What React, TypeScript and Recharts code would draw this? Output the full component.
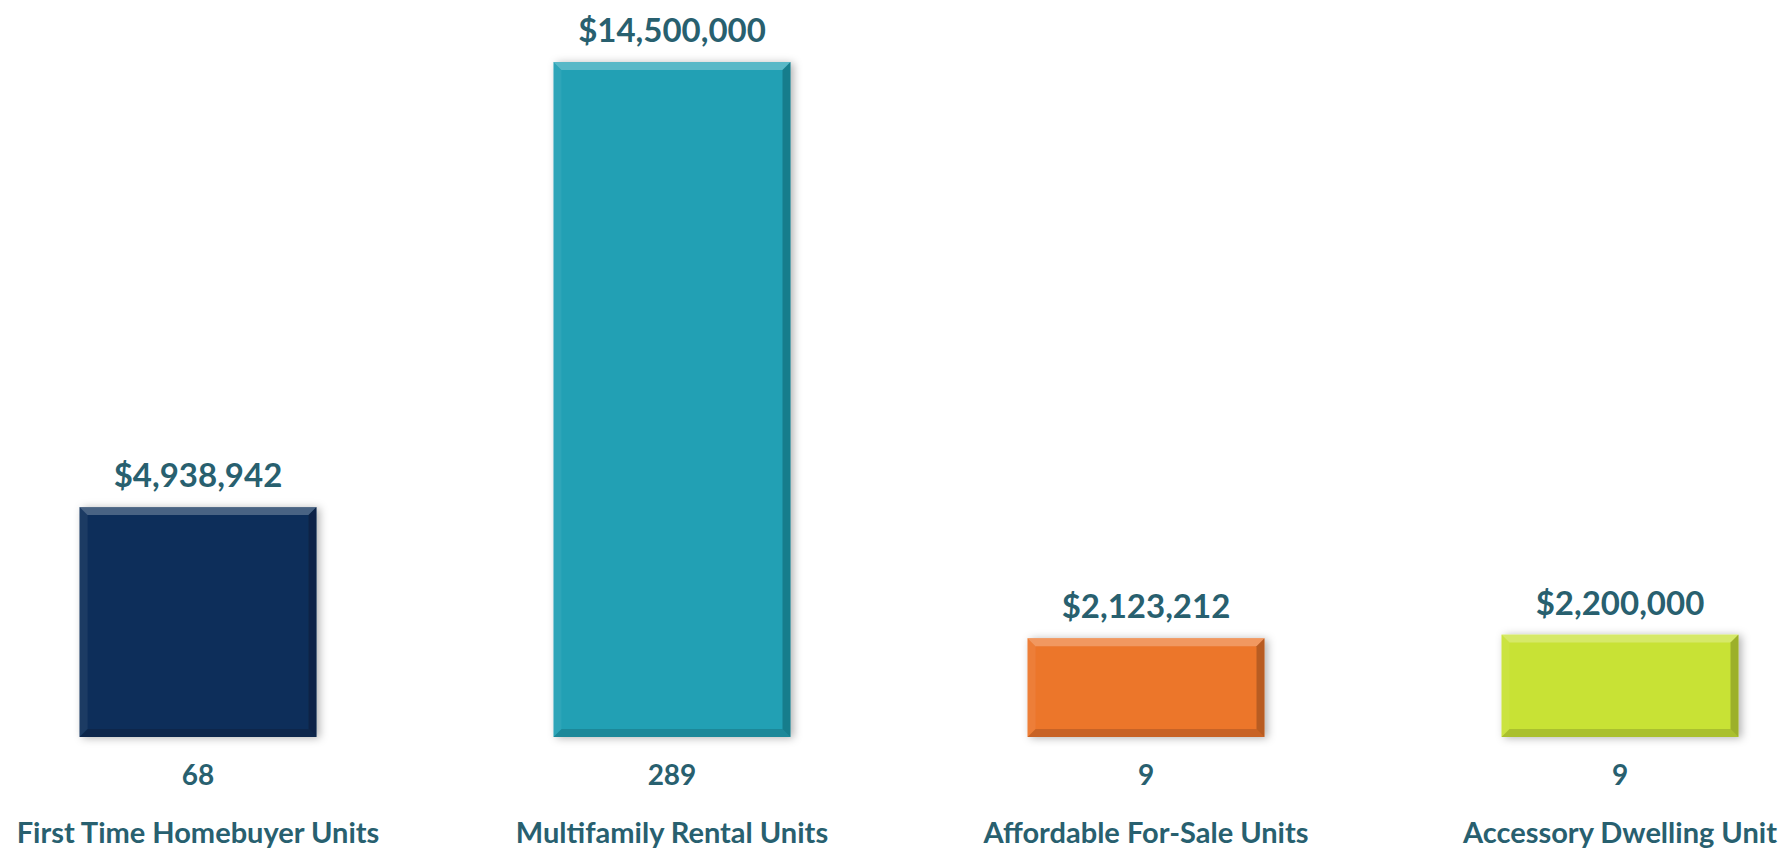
import React from 'react';
import { BarChart, Bar, XAxis, YAxis, Cell, LabelList } from 'recharts';

const categories = ['First Time Homebuyer Units', 'Multifamily Rental Units', 'Affordable For-Sale Units', 'Accessory Dwelling Unit'];
const funding = [4938942, 14500000, 2123212, 2200000];
const units = [68, 289, 9, 9];
const barColors = ['#0E2F5A', '#20A0B4', '#EC762C', '#C8E236'];

const data = categories.map((name, i) => ({ name, funding: funding[i], units: units[i] }));

const textColor = '#28606F';
const font = 'Lato, "Open Sans", sans-serif';

const money = (v: number) => '$' + v.toLocaleString('en-US');

// bevelled bar, roughly like the office "bevel" shape effect
const BevelBar = (props: any) => {
    const { x, y, width, height, fill } = props;
    const b = Math.min(8, height / 3);
    return (
        <g filter="url(#barShadow)">
            <rect x={x} y={y} width={width} height={height} fill={fill} />
            <polygon points={`${x},${y} ${x + width},${y} ${x + width - b},${y + b} ${x + b},${y + b}`} fill="#fff" opacity={0.25} />
            <polygon points={`${x},${y} ${x + b},${y + b} ${x + b},${y + height - b} ${x},${y + height}`} fill="#fff" opacity={0.06} />
            <polygon points={`${x + width},${y} ${x + width},${y + height} ${x + width - b},${y + height - b} ${x + width - b},${y + b}`} fill="#000" opacity={0.22} />
            <polygon points={`${x},${y + height} ${x + width},${y + height} ${x + width - b},${y + height - b} ${x + b},${y + height - b}`} fill="#000" opacity={0.15} />
        </g>
    );
};

const CategoryTick = (props: any) => {
    const { x, y, payload, index } = props;
    return (
        <g>
            <text x={x} y={y + 40} textAnchor="middle" fill={textColor} fontFamily={font} fontWeight={700} fontSize={28}>
                {units[index]}
            </text>
            <text x={x} y={y + 98} textAnchor="middle" fill={textColor} fontFamily={font} fontWeight={700} fontSize={29}>
                {payload.value}
            </text>
        </g>
    );
};

export default function App() {
    return (
        <div style={{ position: 'absolute', left: 0, top: 0, width: 1786, height: 850, overflow: 'hidden', background: '#fff' }}>
            <div style={{ position: 'absolute', left: -39, top: 0 }}>
                <BarChart width={1896} height={850} data={data} margin={{ top: 62, right: 0, bottom: 0, left: 0 }} barCategoryGap="25%">
                    <defs>
                        <filter id="barShadow" x="-10%" y="-10%" width="120%" height="120%">
                            <feDropShadow dx={3} dy={1} stdDeviation={4} floodColor="#000" floodOpacity={0.3} />
                        </filter>
                    </defs>
                    <XAxis dataKey="name" axisLine={false} tickLine={false} height={113} tick={<CategoryTick />} interval={0} />
                    <YAxis hide domain={[0, 14500000]} />
                    <Bar dataKey="funding" shape={<BevelBar />} isAnimationActive={false}>
                        {data.map((d, i) => (
                            <Cell key={d.name} fill={barColors[i]} />
                        ))}
                        <LabelList dataKey="funding" position="top" offset={20} formatter={money} fill={textColor} fontFamily={font} fontWeight={700} fontSize={33} />
                    </Bar>
                </BarChart>
            </div>
        </div>
    );
}
